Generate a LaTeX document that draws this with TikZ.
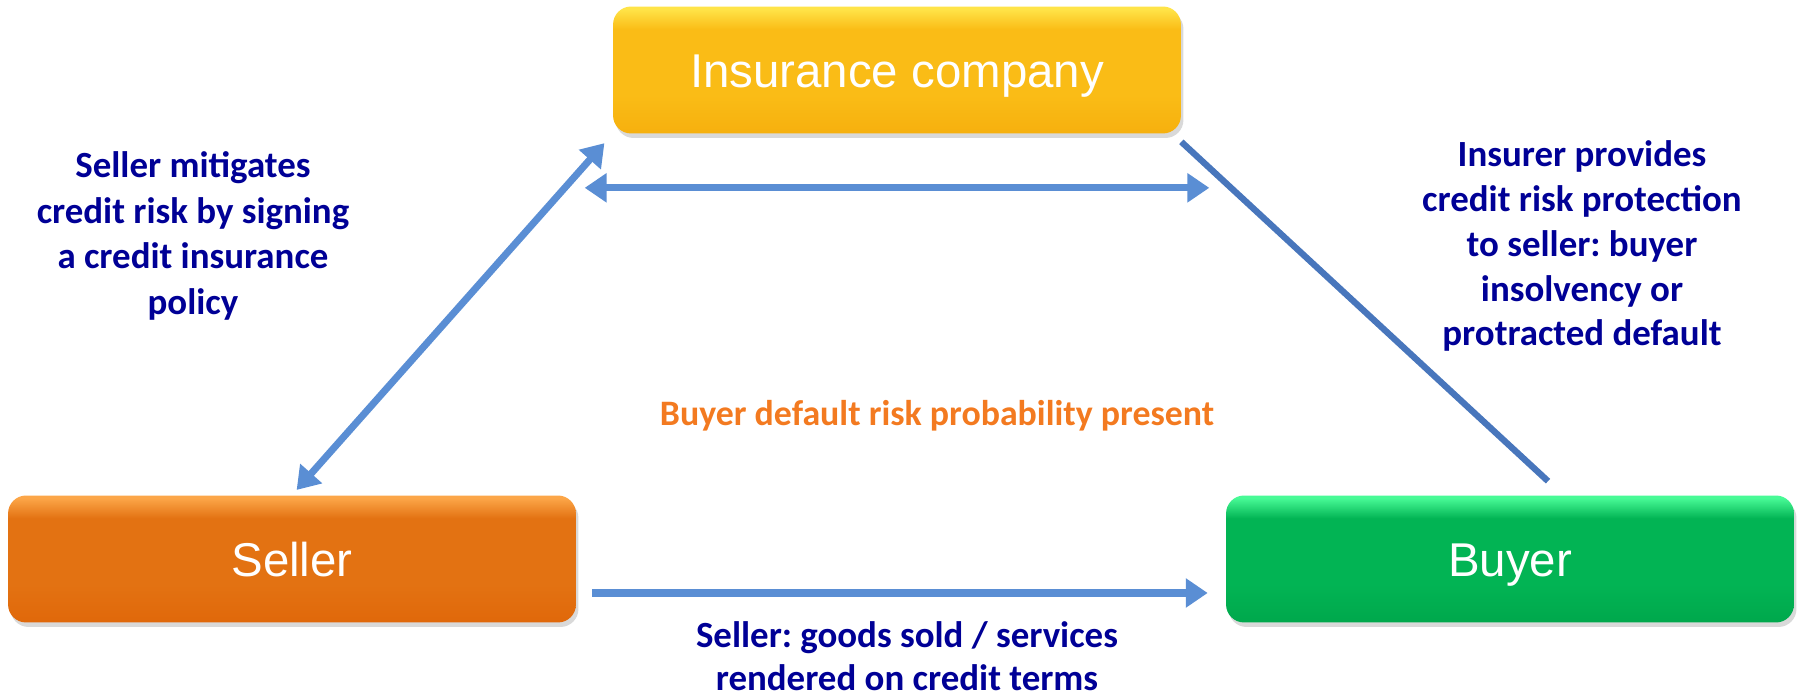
\documentclass[tikz,border=0pt]{standalone}
\usepackage{fontspec}
\setmainfont{Carlito}
\newfontfamily\boxfont{Liberation Sans}
\usetikzlibrary{arrows.meta,shadows}
\frenchspacing
\definecolor{navytext}{RGB}{0,0,150}
\definecolor{risktext}{RGB}{243,122,32}
\definecolor{linkblue}{RGB}{90,142,212}
\definecolor{wireblue}{RGB}{72,118,188}
\definecolor{inslight}{RGB}{255,228,72}
\definecolor{insmain}{RGB}{250,188,22}
\definecolor{insdark}{RGB}{246,176,14}
\definecolor{sellight}{RGB}{252,166,72}
\definecolor{selmain}{RGB}{227,114,18}
\definecolor{seldark}{RGB}{224,104,10}
\definecolor{buylight}{RGB}{72,250,150}
\definecolor{buymain}{RGB}{2,180,84}
\definecolor{buydark}{RGB}{0,168,76}
\pgfdeclareverticalshading{insshade}{100bp}{color(0bp)=(insdark); color(25bp)=(insdark); color(40bp)=(insmain); color(66bp)=(insmain); color(74bp)=(inslight); color(100bp)=(inslight)}
\pgfdeclareverticalshading{selshade}{100bp}{color(0bp)=(seldark); color(25bp)=(seldark); color(40bp)=(selmain); color(66bp)=(selmain); color(74bp)=(sellight); color(100bp)=(sellight)}
\pgfdeclareverticalshading{buyshade}{100bp}{color(0bp)=(buydark); color(25bp)=(buydark); color(40bp)=(buymain); color(66bp)=(buymain); color(74bp)=(buylight); color(100bp)=(buylight)}
\tikzset{
  party/.style={rounded corners=0.36cm, minimum width=11.36cm, minimum height=2.54cm,
    inner sep=0pt, text=white, font=\boxfont\fontsize{27}{32}\selectfont,
    text height=19.4pt, text depth=0pt,
    drop shadow={opacity=0.3, shadow xshift=0.05cm, shadow yshift=-0.09cm}},
  note/.style={align=center, text=navytext, font=\fontsize{21}{26}\selectfont\bfseries},
  link/.style={draw=linkblue, line width=4pt},
  wire/.style={draw=wireblue, line width=3.6pt}
}
\begin{document}
\begin{tikzpicture}[x=0.02cm,y=0.02cm,>={Triangle[width=16pt,length=12.5pt]}]
\useasboundingbox (0,0) rectangle (1800,696);
\node [party, shading=insshade] (ins) at (897,626) {Insurance company};
\node [party, shading=selshade] (seller) at (292,137) {Seller};
\node [party, shading=buyshade] (buyer) at (1510,137) {Buyer};
\node [note] (policy) at (193,460) {Seller mitigates\\credit risk by signing\\a credit insurance\\policy};
\node [note, font=\fontsize{21}{25.6}\selectfont\bfseries] (cover) at (1582,450) {Insurer provides\\credit risk protection\\to seller: buyer\\insolvency or\\protracted default};
\node [note, text=risktext, font=\fontsize{20.4}{24}\selectfont\bfseries] (risk) at (937,280) {Buyer default risk probability present};
\node [note, font=\fontsize{21}{24.4}\selectfont\bfseries] (terms) at (907,40) {Seller: goods sold / services\\rendered on credit terms};
\draw [link,<->,shorten <=0.14cm,shorten >=0.25cm] (seller.north) -- (ins.south west);
\draw [link,<->] ([shift={(-28,-54)}]ins.south west) -- ([shift={(28,-54)}]ins.south east);
\draw [wire] ([shift={(0,-8)}]ins.south east) -- ([shift={(38,14)}]buyer.north);
\draw [link,->] ([shift={(16,-34)}]seller.east) -- ([shift={(-18,-34)}]buyer.west);
\end{tikzpicture}
\end{document}
